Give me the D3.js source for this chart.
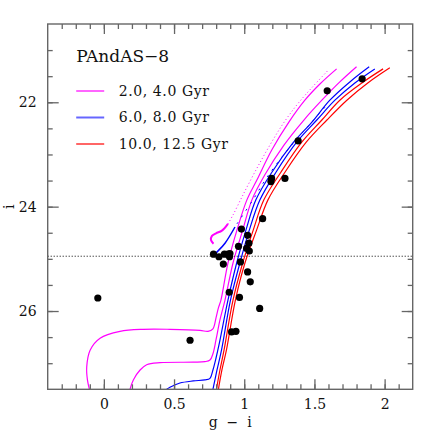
<!DOCTYPE html>
<html>
<head>
<meta charset="utf-8">
<script src="https://cdn.jsdelivr.net/npm/d3@7"></script>
<style>
  body { margin: 0; background: #fff; }
  svg text { font-family: "DejaVu Serif", serif !important; fill: #111; }
</style>
</head>
<body>
<div id="chart"></div>
<script>
// star photometry (g-i, i)
var starColor = [1.131, 0.980, 1.024, 1.033, 0.959, 1.017, 1.036, 0.781, 0.820, 0.859,
  0.884, 0.898, 0.895, 0.851, 0.973, 1.024, 1.043, 0.893, 0.966, 1.110,
  0.910, 0.941, -0.043, 0.614, 1.591, 1.840, 1.384, 1.195, 1.190, 1.290];
var starMag = [24.23, 24.43, 24.55, 24.70, 24.76, 24.80, 24.85, 24.91, 24.96, 24.91,
  24.91, 24.90, 24.96, 25.10, 25.06, 25.25, 25.44, 25.64, 25.74, 25.95,
  26.40, 26.39, 25.75, 26.56, 21.78, 21.55, 22.74, 23.46, 23.52, 23.46];

// isochrones, [g-i, i]
var iso2 = [[-0.103,27.50],[-0.117,27.32],[-0.122,27.07],[-0.098,26.75],[-0.027,26.52],[0.115,26.39],
  [0.279,26.35],[0.471,26.35],[0.685,26.37],[0.742,26.39],[0.777,26.34],[0.799,26.13],[0.816,25.94],
  [0.834,25.79],[0.884,25.08],[0.948,24.45],[1.019,23.87],[1.090,23.49],[1.197,22.91],[1.318,22.38],
  [1.432,21.96],[1.539,21.65],[1.658,21.36]];
var iso4 = [[0.186,27.50],[0.210,27.32],[0.258,27.13],[0.305,27.03],[0.400,26.99],[0.637,26.98],
  [0.720,26.97],[0.756,26.94],[0.777,26.82],[0.799,26.55],[0.827,26.17],[0.863,25.79],[0.920,25.08],
  [0.989,24.45],[1.055,23.87],[1.147,23.39],[1.283,22.82],[1.425,22.34],[1.553,21.96],[1.681,21.61],
  [1.800,21.32]];
var iso6 = [[0.448,27.50],[0.471,27.46],[0.542,27.38],[0.637,27.34],[0.720,27.32],[0.756,27.29],
  [0.777,27.13],[0.799,26.90],[0.820,26.65],[0.884,25.79],[0.946,25.08],[1.012,24.45],[1.083,23.87],
  [1.197,23.34],[1.347,22.78],[1.482,22.38],[1.610,21.96],[1.752,21.61],[1.890,21.32]];
var iso8 = [[0.777,27.50],[0.806,27.13],[0.838,26.75],[0.902,25.79],[0.969,25.08],[1.036,24.45],
  [1.112,23.87],[1.226,23.34],[1.375,22.76],[1.517,22.34],[1.646,21.96],[1.788,21.63],[1.930,21.36]];
var iso10 = [[0.802,27.50],[0.827,27.13],[0.856,26.75],[0.920,25.79],[0.989,25.08],[1.064,24.45],
  [1.140,23.87],[1.261,23.34],[1.411,22.76],[1.553,22.34],[1.681,21.96],[1.838,21.63],[1.989,21.36]];
var iso12 = [[0.816,27.50],[0.841,27.13],[0.873,26.75],[0.937,25.79],[1.005,25.08],[1.088,24.45],
  [1.169,23.87],[1.290,23.34],[1.443,22.76],[1.589,22.34],[1.731,21.96],[1.880,21.63],[2.037,21.34]];

// horizontal branch + AGB pieces
var hbYoung = [[0.781,24.71],[0.763,24.64],[0.770,24.56],[0.799,24.51],[0.841,24.46],[0.884,24.33]];
var agbYoung = [[0.884,24.33],[0.920,24.16],[0.990,23.78],[1.075,23.34],[1.170,22.88],[1.272,22.43],
  [1.375,22.05],[1.485,21.71],[1.600,21.38]];
var hbMid = [[0.777,24.96],[0.799,24.89],[0.863,24.70],[0.934,24.39]];
var agbMid = [[0.948,24.33],[1.062,23.87],[1.169,23.41],[1.325,22.86],[1.468,22.42],[1.596,22.03]];

var legendLabels = ["2.0, 4.0 Gyr", "6.0, 8.0 Gyr", "10.0, 12.5 Gyr"];
var legendColors = ["#ff00ff", "#0000ff", "#ff0000"];
var limitMag = 24.95;

var svgWidth = 436, svgHeight = 436;
var margin = {top: 24, right: 23.3, bottom: 46.7, left: 47.7};
var width = svgWidth - margin.left - margin.right;
var height = svgHeight - margin.top - margin.bottom;

var svg = d3.select("#chart").append("svg")
  .attr("width", svgWidth)
  .attr("height", svgHeight);

var g = svg.append("g")
  .attr("transform", `translate(${margin.left}, ${margin.top})`);

var x = d3.scaleLinear().domain([-0.4, 2.2]).range([0, width]);
var y = d3.scaleLinear().domain([20.5, 27.5]).range([0, height]);

svg.append("defs").append("clipPath").attr("id", "clip")
  .append("rect").attr("width", width).attr("height", height);

var plot = g.append("g").attr("clip-path", "url(#clip)");

var line = d3.line()
  .x(d => x(d[0]))
  .y(d => y(d[1]))
  .curve(d3.curveCatmullRom.alpha(0.5));

// isochrones
var isoList = [iso2, iso4, iso6, iso8, iso10, iso12];
var isoColor = ["#ff00ff", "#ff00ff", "#0000ff", "#0000ff", "#ff0000", "#ff0000"];
isoList.forEach(function(iso, i) {
  plot.append("path")
    .attr("d", line(iso))
    .attr("fill", "none")
    .attr("stroke", isoColor[i])
    .attr("stroke-width", 1.2);
});

plot.append("path").attr("d", line(hbYoung))
  .attr("fill", "none").attr("stroke", "#ff00ff").attr("stroke-width", 2);
plot.append("path").attr("d", line(agbYoung))
  .attr("fill", "none").attr("stroke", "#ff00ff").attr("stroke-width", 1)
  .attr("stroke-dasharray", "1,2.5");
plot.append("path").attr("d", line(hbMid))
  .attr("fill", "none").attr("stroke", "#0000ff").attr("stroke-width", 1.5);
plot.append("path").attr("d", line(agbMid))
  .attr("fill", "none").attr("stroke", "#0000ff").attr("stroke-width", 1)
  .attr("stroke-dasharray", "2,6");

// completeness limit
g.append("line")
  .attr("x1", 0).attr("x2", width)
  .attr("y1", y(limitMag)).attr("y2", y(limitMag))
  .attr("stroke", "#000")
  .attr("stroke-width", 1)
  .attr("stroke-dasharray", "1,2");

// stars
plot.selectAll("circle")
  .data(starColor)
  .enter()
  .append("circle")
  .attr("cx", d => x(d))
  .attr("cy", (d, i) => y(starMag[i]))
  .attr("r", 3.6)
  .attr("fill", "#000");

// axes, ticks pointing inwards on every side
var axisColor = "#666";
function styleAxis(sel) {
  sel.select(".domain").remove();
  sel.selectAll("line").attr("stroke", axisColor).attr("stroke-width", 1.3);
  sel.selectAll("text").attr("font-size", 14).attr("fill", "#111");
}

var xMajor = d3.range(0, 2.01, 0.5);
var xMinor = d3.range(-0.3, 2.15, 0.1);
var yMajor = [22, 24, 26];
var yMinor = d3.range(21, 27.3, 0.5);

g.append("g").attr("transform", `translate(0, ${height})`)
  .call(d3.axisBottom(x).tickValues(xMinor).tickSize(-5).tickFormat(""))
  .call(styleAxis);
g.append("g").attr("transform", `translate(0, ${height})`)
  .call(d3.axisBottom(x).tickValues(xMajor).tickSizeInner(-10).tickSizeOuter(0)
    .tickPadding(10).tickFormat(d3.format("")))
  .call(styleAxis);
g.append("g")
  .call(d3.axisTop(x).tickValues(xMinor).tickSize(-5).tickFormat(""))
  .call(styleAxis);
g.append("g")
  .call(d3.axisTop(x).tickValues(xMajor).tickSize(-10).tickFormat(""))
  .call(styleAxis);

g.append("g")
  .call(d3.axisLeft(y).tickValues(yMinor).tickSize(-5).tickFormat(""))
  .call(styleAxis);
g.append("g")
  .call(d3.axisLeft(y).tickValues(yMajor).tickSizeInner(-11).tickSizeOuter(0)
    .tickPadding(11).tickFormat(d3.format("d")))
  .call(styleAxis);
g.append("g").attr("transform", `translate(${width}, 0)`)
  .call(d3.axisRight(y).tickValues(yMinor).tickSize(-5).tickFormat(""))
  .call(styleAxis);
g.append("g").attr("transform", `translate(${width}, 0)`)
  .call(d3.axisRight(y).tickValues(yMajor).tickSize(-11).tickFormat(""))
  .call(styleAxis);

g.append("rect")
  .attr("width", width).attr("height", height)
  .attr("fill", "none")
  .attr("stroke", axisColor)
  .attr("stroke-width", 1.4);

// axis titles
g.append("text")
  .attr("x", width / 2)
  .attr("y", height + 38)
  .attr("text-anchor", "middle")
  .attr("font-size", 14)
  .attr("xml:space", "preserve")
  .text("g  \u2212  i");

g.append("text")
  .attr("transform", `translate(${-margin.left + 14}, ${height / 2}) rotate(-90)`)
  .attr("text-anchor", "middle")
  .attr("font-size", 14)
  .text("i");

// legend
g.append("text")
  .attr("x", 28.5)
  .attr("y", 37.5)
  .attr("font-size", 17)
  .text("PAndAS\u22128");

legendLabels.forEach(function(lab, i) {
  var ly = 67 + i * 26.5;
  g.append("line")
    .attr("x1", 28.5).attr("x2", 56.5)
    .attr("y1", ly).attr("y2", ly)
    .attr("stroke", legendColors[i])
    .attr("stroke-opacity", 0.6)
    .attr("stroke-width", 2);
  g.append("text")
    .attr("x", 71)
    .attr("y", ly + 4.5)
    .attr("font-size", 14)
    .attr("letter-spacing", 0.6)
    .text(lab);
});
</script>
</body>
</html>
